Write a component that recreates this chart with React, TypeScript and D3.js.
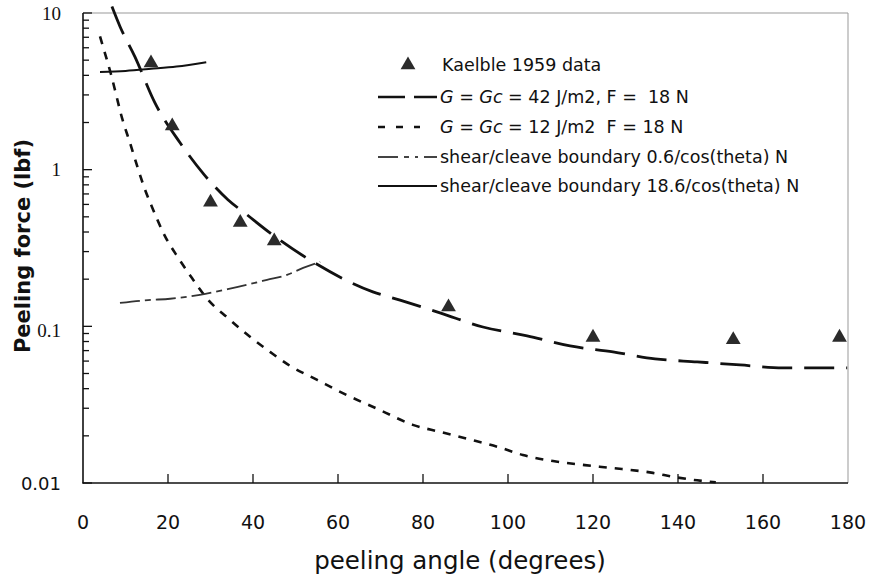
import React from 'react';
import * as d3 from 'd3';

// Kaelble 1959 measured points
const kaelbleAngle = [16, 21, 30, 37, 45, 86, 120, 153, 178];
const kaelbleForce = [4.8, 1.9, 0.62, 0.46, 0.35, 0.133, 0.085, 0.082, 0.085];

// G = Gc = 42 J/m2, F = 18 N
const g42Angle = [6.8, 8.7, 12.2, 16.9, 22.8, 28.5, 34.1, 38.6, 44, 54.1, 68.2, 74.6, 84, 94.1, 104.5, 114.6, 124.7, 134.6, 144.5, 154.6, 164.7, 174.6, 179.8];
const g42Force = [11.0, 8.2, 5.27, 2.68, 1.49, 0.93, 0.643, 0.515, 0.395, 0.258, 0.166, 0.147, 0.122, 0.099, 0.087, 0.075, 0.0687, 0.062, 0.0593, 0.0567, 0.0543, 0.0543, 0.0543];

// G = Gc = 12 J/m2, F = 18 N
const g12Angle = [4.0, 5.4, 6.6, 7.8, 8.9, 11.1, 14.6, 16.5, 19.1, 22.4, 25.6, 29.4, 34.1, 39.3, 44.0, 48.7, 55.1, 61.0, 69.9, 77.6, 84.0, 90.6, 97.6, 103.5, 110.6, 118.1, 124.0, 134.1, 139.3, 144.5, 148.9];
const g12Force = [7.08, 5.27, 4.05, 3.01, 2.28, 1.47, 0.745, 0.555, 0.385, 0.274, 0.204, 0.148, 0.113, 0.0857, 0.0687, 0.056, 0.0455, 0.0376, 0.0292, 0.0235, 0.0212, 0.0191, 0.017, 0.0151, 0.0138, 0.013, 0.0125, 0.0116, 0.0109, 0.0104, 0.0101];

// shear/cleave boundaries
const shear06Angle = [8.7, 15.3, 20.5, 27.5, 34.6, 43.3, 48.0, 51.8, 55.8];
const shear06Force = [0.141, 0.147, 0.15, 0.159, 0.174, 0.198, 0.213, 0.236, 0.258];
const shear186Angle = [4, 10, 16, 22, 29];
const shear186Force = [4.2, 4.27, 4.4, 4.55, 4.85];

const xTickValues = [0, 20, 40, 60, 80, 100, 120, 140, 160, 180];
const yTickLabels = ['0.01', '0.1', '1', '10'];

const sans = '"DejaVu Sans", sans-serif';
const serif = '"Liberation Serif", serif';

const App = () => {
  const width = 869;
  const height = 586;
  const x = d3.scaleLinear().domain([0, 180]).range([83, 848]);
  const y = d3.scaleLog().domain([0.01, 10]).range([483, 13]);

  const line = d3
    .line<[number, number]>()
    .x((d) => x(d[0]))
    .y((d) => y(d[1]))
    .curve(d3.curveMonotoneX);

  const zip = (a: number[], b: number[]) => a.map((v, i) => [v, b[i]] as [number, number]);

  const tri = d3.symbol().type(d3.symbolTriangle).size(95)();

  const series = [
    { pts: zip(g42Angle, g42Force), dash: '30,12', w: 2.8, color: '#111' },
    { pts: zip(g12Angle, g12Force), dash: '8,8', w: 2.6, color: '#111' },
    { pts: zip(shear06Angle, shear06Force), dash: '20,5,6,5', w: 1.8, color: '#333' },
    { pts: zip(shear186Angle, shear186Force), dash: null, w: 2, color: '#111' },
  ];

  const legendRows = [65, 97, 127, 157, 186];
  const legendX0 = 378;
  const legendX1 = 437;
  const textX = 440;
  const lfs = 17.5;

  return (
    <svg
      width={width}
      height={height}
      style={{ position: 'absolute', left: 0, top: 0, background: '#fff' }}
    >
      {/* frame */}
      <line x1={83} x2={848} y1={13} y2={13} stroke="#999" strokeWidth={1} />
      <line x1={848} x2={848} y1={13} y2={483} stroke="#999" strokeWidth={1} />
      <line x1={83} x2={83} y1={13} y2={483.5} stroke="#111" strokeWidth={1.6} />
      <line x1={82.5} x2={848} y1={483} y2={483} stroke="#111" strokeWidth={1.6} />

      {/* y ticks */}
      {y.ticks().map((t, i) => {
        const major = Math.abs(Math.log10(t) - Math.round(Math.log10(t))) < 1e-6;
        return (
          <line
            key={'yt' + i}
            x1={83}
            x2={83 + (major ? 9 : 6)}
            y1={y(t)}
            y2={y(t)}
            stroke="#111"
            strokeWidth={1.3}
          />
        );
      })}
      {yTickLabels.map((l) => (
        <text
          key={l}
          x={61}
          y={y(+l) + (l === '0.1' ? 4 : 0)}
          textAnchor="end"
          dominantBaseline="central"
          fontFamily={l === '0.01' ? sans : serif}
          fontSize={l === '0.01' ? 18 : 19}
          fill="#111"
        >
          {l}
        </text>
      ))}

      {/* x ticks */}
      {xTickValues.slice(1, -1).map((t) => (
        <line key={'xt' + t} x1={x(t)} x2={x(t)} y1={483} y2={474} stroke="#111" strokeWidth={1.3} />
      ))}
      {xTickValues.map((t) => (
        <text
          key={'xl' + t}
          x={x(t)}
          y={522}
          textAnchor="middle"
          dominantBaseline="central"
          fontFamily={sans}
          fontSize={19}
          fill="#111"
        >
          {t}
        </text>
      ))}

      {/* axis titles */}
      <text x={460} y={569} textAnchor="middle" fontFamily={sans} fontSize={24.5} fill="#111">
        peeling angle (degrees)
      </text>
      <text
        transform="translate(30,246) rotate(-90)"
        textAnchor="middle"
        fontFamily={sans}
        fontSize={21}
        fontWeight="bold"
        fill="#111"
      >
        Peeling force (lbf)
      </text>

      {/* curves */}
      {series.map((s, i) => (
        <path
          key={'s' + i}
          d={line(s.pts) || ''}
          fill="none"
          stroke={s.color}
          strokeWidth={s.w}
          strokeDasharray={s.dash || undefined}
        />
      ))}

      {/* data points */}
      {kaelbleAngle.map((a, i) => (
        <path
          key={'k' + i}
          d={tri || ''}
          transform={`translate(${x(a)},${y(kaelbleForce[i])})`}
          fill="#2b2b2b"
        />
      ))}

      {/* legend */}
      <path d={tri || ''} transform={`translate(408,${legendRows[0]})`} fill="#2b2b2b" />
      <text x={textX + 2} y={legendRows[0]} dominantBaseline="central" fontFamily={sans} fontSize={lfs} fill="#111">
        Kaelble 1959 data
      </text>

      <line x1={legendX0} x2={legendX1} y1={legendRows[1]} y2={legendRows[1]} stroke="#111" strokeWidth={2.6} strokeDasharray="27,9" />
      <text x={textX} y={legendRows[1]} dominantBaseline="central" fontFamily={sans} fontSize={lfs} fill="#111">
        <tspan fontStyle="italic">G</tspan> = <tspan fontStyle="italic">Gc</tspan> = 42 J/m2, F =&nbsp; 18 N
      </text>

      <line x1={legendX0} x2={420} y1={legendRows[2]} y2={legendRows[2]} stroke="#111" strokeWidth={2.4} strokeDasharray="7,11" />
      <text x={textX} y={legendRows[2]} dominantBaseline="central" fontFamily={sans} fontSize={lfs} fill="#111">
        <tspan fontStyle="italic">G</tspan> = <tspan fontStyle="italic">Gc</tspan> = 12 J/m2&nbsp; F = 18 N
      </text>

      <line x1={legendX0} x2={legendX1} y1={legendRows[3]} y2={legendRows[3]} stroke="#444" strokeWidth={1.8} strokeDasharray="20,6,5,6,3,6" />
      <text x={textX} y={legendRows[3]} dominantBaseline="central" fontFamily={sans} fontSize={lfs} fill="#111">
        shear/cleave boundary 0.6/cos(theta) N
      </text>

      <line x1={legendX0} x2={legendX1} y1={legendRows[4]} y2={legendRows[4]} stroke="#111" strokeWidth={2} />
      <text x={textX} y={legendRows[4]} dominantBaseline="central" fontFamily={sans} fontSize={lfs} fill="#111">
        shear/cleave boundary 18.6/cos(theta) N
      </text>
    </svg>
  );
};

export default App;
